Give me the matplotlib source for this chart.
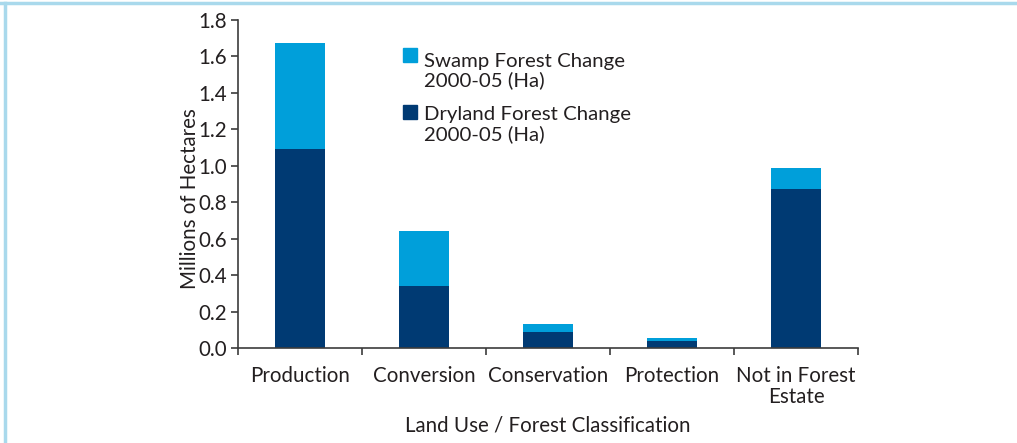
import numpy as np
import matplotlib.pyplot as plt
from matplotlib.patches import Rectangle
from matplotlib.lines import Line2D

# ─── Datos (millones de hectáreas) ───────────────────────────────────────────
categories = ["Production", "Conversion", "Conservation", "Protection", "Not in Forest\nEstate"]
dryland = [1.093, 0.340, 0.088, 0.038, 0.873]
swamp = [0.582, 0.303, 0.044, 0.017, 0.115]
yticks = [0.0, 0.2, 0.4, 0.6, 0.8, 1.0, 1.2, 1.4, 1.6, 1.8]

swamp_label = "Swamp Forest Change\n2000-05 (Ha)"
dryland_label = "Dryland Forest Change\n2000-05 (Ha)"

C_SWAMP = "#009fda"
C_DRY = "#003a73"
C_TEXT = "#231f20"
C_AXIS = "#3c3c3c"
FS = 14.8

plt.rcParams["font.family"] = ["Lato", "DejaVu Sans"]

W, H = 1017, 443
fig = plt.figure(figsize=(W / 100, H / 100), dpi=100)
ax = fig.add_axes([238 / W, 1 - 348 / H, 620 / W, 328 / H])

x = np.arange(len(categories))
ax.bar(x, dryland, width=0.41, color=C_DRY, zorder=2)
ax.bar(x, swamp, width=0.41, bottom=dryland, color=C_SWAMP, zorder=2)

# ── Ejes ──────────────────────────────────────────────────────────────
ax.set_xlim(-0.5, len(categories) - 0.5)
ax.set_ylim(0, 1.8)
ax.set_yticks(yticks)
ax.set_yticklabels([f"{v:.1f}" for v in yticks], fontsize=FS, color=C_TEXT)

# ticks mayores en los límites de categoría, etiquetas en los centros
ax.set_xticks(np.arange(len(categories) + 1) - 0.5)
ax.set_xticklabels([])
ax.set_xticks(x, minor=True)
ax.set_xticklabels(categories, minor=True, fontsize=FS, color=C_TEXT, linespacing=1.05)
ax.tick_params(axis="x", which="minor", length=0, pad=13)
ax.tick_params(axis="both", which="major", direction="out", length=5, width=1.2, color=C_AXIS)
ax.tick_params(axis="y", pad=3)

for side in ["top", "right"]:
    ax.spines[side].set_visible(False)
for side in ["left", "bottom"]:
    ax.spines[side].set_color(C_AXIS)
    ax.spines[side].set_linewidth(1.2)

ax.set_ylabel("Millions of Hectares", fontsize=FS, color=C_TEXT)
ax.yaxis.set_label_coords(-0.061, 0.454)
ax.set_xlabel("Land Use / Forest Classification", fontsize=FS, color=C_TEXT, labelpad=6)

# ── Leyenda manual (cuadro alineado con la primera línea) ─────────────
for lab, col, sq_top, txt_mid in [(swamp_label, C_SWAMP, 48, 59.5),
                                  (dryland_label, C_DRY, 105, 113)]:
    fig.patches.append(Rectangle((403 / W, 1 - (sq_top + 14) / H), 14 / W, 14 / H,
                                 transform=fig.transFigure, color=col))
    fig.text(424 / W, 1 - (txt_mid - 7) / H, lab, fontsize=14.7, color=C_TEXT,
             va="top", ha="left", linespacing=1.13)

# ── Marco azul claro ──────────────────────────────────────────────────
fig.add_artist(Line2D([0, 1], [1 - 3 / H, 1 - 3 / H], transform=fig.transFigure,
                      color="#a9d9ec", linewidth=2.5))
fig.add_artist(Line2D([5 / W, 5 / W], [0, 1 - 3 / H], transform=fig.transFigure,
                      color="#a9d9ec", linewidth=2.5))

fig.savefig("out.png", dpi=100)
